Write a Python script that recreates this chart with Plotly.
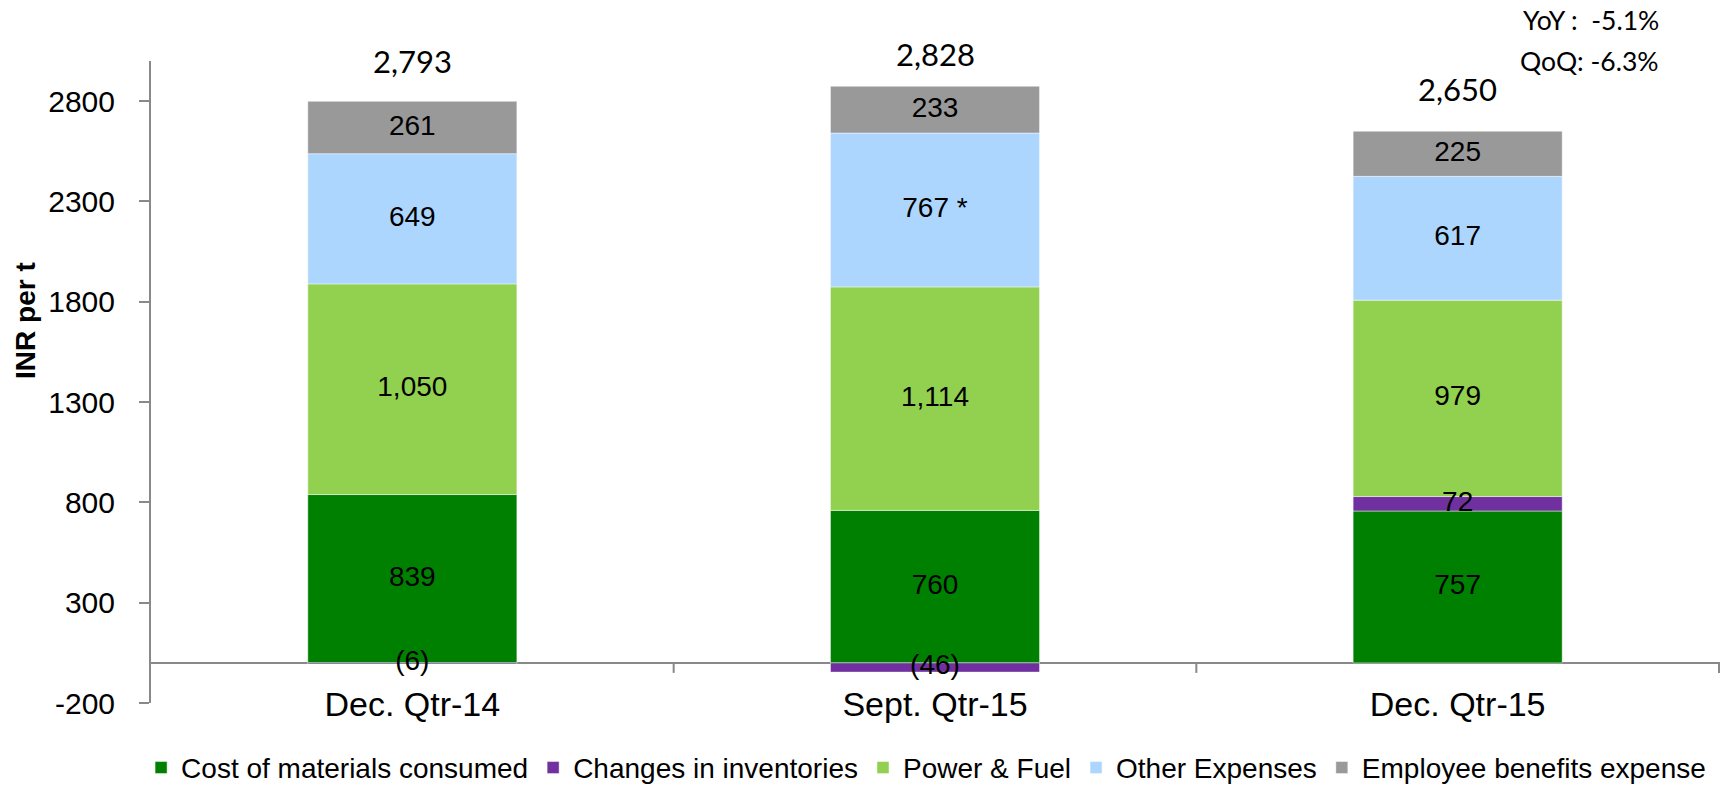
import plotly.graph_objects as go

categories = ["Dec. Qtr-14", "Sept. Qtr-15", "Dec. Qtr-15"]
cost_materials = [839, 760, 757]
changes_inventories = [-6, -46, 72]
power_fuel = [1050, 1114, 979]
other_expenses = [649, 767, 617]
other_notes = ["", " *", ""]
employee_benefits = [261, 233, 225]
totals = [2793, 2828, 2650]
yoy_text = "YoY :  -5.1%"
qoq_text = "QoQ: -6.3%"
y_ticks = [-200, 300, 800, 1300, 1800, 2300, 2800]
y_title = "INR per t"

ARIAL = "Liberation Sans, Arial, sans-serif"
CALIBRI = "Lato, Open Sans, sans-serif"

def fmt(v, note=""):
    s = f"({abs(v):,})" if v < 0 else f"{v:,}"
    return s + note

series = [
    ("Cost of materials consumed", cost_materials, "#008000", [""] * 3),
    ("Changes in inventories", changes_inventories, "#7030A0", [""] * 3),
    ("Power & Fuel", power_fuel, "#92D050", [""] * 3),
    ("Other Expenses", other_expenses, "#ADD6FF", other_notes),
    ("Employee benefits expense", employee_benefits, "#999999", [""] * 3),
]

fig = go.Figure()
pos_base = [0] * len(categories)
neg_base = [0] * len(categories)
lab_x, lab_y, lab_t = [], [], []
for name, vals, color, notes in series:
    fig.add_trace(go.Bar(
        name=name, x=categories, y=vals,
        marker=dict(color=color, line=dict(color="rgba(255,255,255,0.45)", width=1)),
        hoverinfo="skip",
    ))
    for i, (v, n) in enumerate(zip(vals, notes)):
        if v >= 0:
            mid = pos_base[i] + v / 2
            pos_base[i] += v
        else:
            mid = neg_base[i] + v / 2
            neg_base[i] += v
        lab_x.append(categories[i])
        lab_y.append(mid)
        lab_t.append(fmt(v, n))

fig.add_trace(go.Scatter(
    x=lab_x, y=lab_y, text=lab_t, mode="text", textposition="middle center",
    textfont=dict(family=ARIAL, size=28, color="black"),
    showlegend=False, hoverinfo="skip", cliponaxis=False,
))

for c, t in zip(categories, totals):
    fig.add_annotation(x=c, y=t, text=f"{t:,}", showarrow=False, yshift=42,
                       font=dict(family=CALIBRI, size=31, color="black"))

fig.add_annotation(xref="paper", yref="paper", x=1.0, y=1.0, xanchor="right", yanchor="middle",
                   yshift=41, xshift=-59, text=yoy_text, showarrow=False, align="left",
                   font=dict(family=CALIBRI, size=26.5, color="black"))
fig.add_annotation(xref="paper", yref="paper", x=1.0, y=1.0, xanchor="right", yanchor="middle",
                   yshift=0, xshift=-59, text=qoq_text, showarrow=False, align="left",
                   font=dict(family=CALIBRI, size=26.5, color="black"))

fig.add_annotation(xref="paper", yref="paper", x=-0.0797, y=0.5966, textangle=-90,
                   xanchor="center", yanchor="middle",
                   text=f"<b>{y_title}</b>", showarrow=False,
                   font=dict(family=ARIAL, size=28, color="black"))

# small tick marks at category boundaries on the zero line
for xb in [0.5, 1.5, 2.5]:
    fig.add_shape(type="line", xref="x", yref="y", x0=xb, x1=xb, ysizemode="pixel",
                  yanchor=0, y0=0, y1=-10, line=dict(color="#898989", width=2))

fig.update_layout(
    barmode="relative",
    bargap=0.6,
    width=1728, height=786,
    margin=dict(l=151, r=8, t=61, b=83, autoexpand=False),
    plot_bgcolor="white", paper_bgcolor="white",
    showlegend=True,
    legend=dict(orientation="h", x=0.494, xanchor="center", y=-0.101, yanchor="middle",
                traceorder="normal", font=dict(family=ARIAL, size=28, color="black"),
                itemwidth=30, tracegroupgap=0),
    font=dict(family=ARIAL, color="black"),
)
fig.update_xaxes(
    type="category", showline=False, ticks="", showgrid=False,
    anchor="free", position=0.035,
    tickfont=dict(family=ARIAL, size=34, color="black"),
)
fig.update_yaxes(
    range=[-200, 3000], tickvals=y_ticks, ticktext=[str(v) for v in y_ticks], showgrid=False,
    showline=True, linecolor="#898989", linewidth=2,
    ticks="outside", ticklen=10, tickcolor="#898989", tickwidth=2,
    ticklabelstandoff=18,
    zeroline=True, zerolinecolor="#898989", zerolinewidth=2,
    tickfont=dict(family=ARIAL, size=30, color="black"),
)

fig.write_html("out.html", config={"displayModeBar": False},
               post_script="document.body.style.margin='0';document.body.style.overflow='hidden';")
